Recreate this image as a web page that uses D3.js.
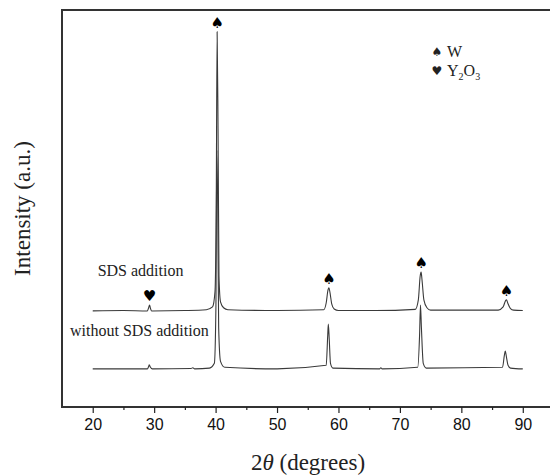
<!DOCTYPE html>
<html><head><meta charset="utf-8">
<script src="https://cdn.jsdelivr.net/npm/d3@7"></script>
<style>body{margin:0;background:#fff}svg{display:block}</style>
</head><body>
<svg id="c" width="550" height="475"></svg>
<script>
// 2θ (degrees), intensity (a.u.)
const withSDS = [[20,242],[25,243],[28.9,242],[29.1,250],[29.25,257],[29.4,248],[29.6,242],[35,243],[38.5,245],[39.5,252],[39.9,290],[40.1,500],[40.25,945],[40.4,700],[40.55,330],[40.8,265],[41.3,250],[42,245],[50,243],[57.6,245],[58.0,262],[58.3,295],[58.45,300],[58.6,290],[58.9,260],[59.3,247],[60,243],[66,243],[72.5,246],[73.0,270],[73.3,330],[73.45,340],[73.6,320],[73.9,270],[74.4,250],[75,244],[86,244],[86.8,252],[87.2,268],[87.35,270],[87.55,262],[88,248],[88.5,244],[90,243]];
const withoutSDS = [[20,96],[28.9,96],[29.1,102],[29.2,106],[29.4,100],[29.7,96],[36,97],[36.3,99],[36.6,96],[39,98],[39.8,110],[40.05,250],[40.2,647],[40.35,500],[40.5,200],[40.8,115],[41.5,100],[50,96],[58.0,105],[58.25,180],[58.35,209],[58.5,170],[58.7,110],[59.1,98],[66.7,96],[66.9,99],[67.1,96],[72.9,100],[73.2,180],[73.35,257],[73.5,200],[73.8,110],[74.3,98],[86.7,100],[87.0,130],[87.15,141],[87.35,125],[87.6,105],[88,98],[90,96]];
const markers = [
  {x:29.25, y:257, sym:"\u2665"},
  {x:40.25, y:945, sym:"\u2660"},
  {x:58.45, y:300, sym:"\u2660"},
  {x:73.45, y:340, sym:"\u2660"},
  {x:87.35, y:270, sym:"\u2660"}
];
const majorTicks = [20,30,40,50,60,70,80,90];
const minorTicks = [25,35,45,55,65,75,85];
const traceLabels = [{text:"SDS addition", x:20.8, y:330},{text:"without SDS addition", x:16.3, y:180}];

const svg = d3.select("#c");
const L = 62, T = 10, B = 407;
const x = d3.scaleLinear().domain([15,95]).range([L, 553.5]);
const y = d3.scaleLinear().domain([0,1000]).range([B, T]);

// frame
svg.append("rect").attr("x", L).attr("y", T).attr("width", x(95)-L).attr("height", B-T)
  .attr("fill","none").attr("stroke","#333").attr("stroke-width",2);

// axis ticks
const ax = svg.append("g").attr("transform",`translate(0,${B})`)
  .call(d3.axisBottom(x).tickValues(majorTicks).tickSize(6).tickSizeOuter(0).tickFormat(d3.format("d")));
ax.select(".domain").remove();
ax.selectAll(".tick line").attr("stroke","#222").attr("stroke-width",1.2);
ax.selectAll(".tick text").attr("font-family","Liberation Sans, Arial, sans-serif").attr("font-size",16).attr("fill","#111").attr("dy","0.9em");
const axm = svg.append("g").attr("transform",`translate(0,${B})`)
  .call(d3.axisBottom(x).tickValues(minorTicks).tickSize(3).tickSizeOuter(0).tickFormat(""));
axm.select(".domain").remove();
axm.selectAll(".tick line").attr("stroke","#222").attr("stroke-width",1.2);

// traces
const line = d3.line().x(d=>x(d[0])).y(d=>y(d[1])).curve(d3.curveMonotoneX);
[withoutSDS, withSDS].forEach(s=>{
  svg.append("path").datum(s).attr("d", line).attr("fill","none").attr("stroke","#3a3a3a").attr("stroke-width",1.1);
});

// peak markers
svg.selectAll(".mk").data(markers).join("text").attr("class","mk")
  .attr("x", d=>x(d.x)).attr("y", d=>y(d.y) - 4)
  .attr("text-anchor","middle").attr("font-family","DejaVu Sans, sans-serif").attr("font-size",15).attr("fill","#000")
  .text(d=>d.sym);

// trace labels
svg.selectAll(".tl").data(traceLabels).join("text").attr("class","tl")
  .attr("x", d=>x(d.x)).attr("y", d=>y(d.y))
  .attr("font-family","Liberation Serif, Times New Roman, serif").attr("font-size",16).attr("fill","#222")
  .text(d=>d.text);

// legend
const lg = svg.append("g").attr("font-family","Liberation Serif, Times New Roman, serif").attr("fill","#222");
lg.append("text").attr("x",437).attr("y",56).attr("text-anchor","middle").attr("font-family","DejaVu Sans, sans-serif").attr("font-size",12).text("\u2660");
lg.append("text").attr("x",447).attr("y",57).attr("font-size",16).text("W");
lg.append("text").attr("x",437).attr("y",75).attr("text-anchor","middle").attr("font-family","DejaVu Sans, sans-serif").attr("font-size",12).text("\u2665");
const t2 = lg.append("text").attr("x",447).attr("y",76).attr("font-size",16);
t2.append("tspan").text("Y");
t2.append("tspan").attr("font-size",10).attr("dy",4).text("2");
t2.append("tspan").attr("dy",-4).text("O");
t2.append("tspan").attr("font-size",10).attr("dy",4).text("3");

// axis titles
const xt = svg.append("text").attr("x", 308).attr("y", 470).attr("text-anchor","middle")
  .attr("font-family","Liberation Serif, Times New Roman, serif").attr("font-size",23).attr("fill","#222");
xt.append("tspan").text("2");
xt.append("tspan").attr("font-style","italic").text("\u03B8");
xt.append("tspan").text(" (degrees)");
svg.append("text").attr("transform",`translate(30,${(T+B)/2}) rotate(-90)`).attr("text-anchor","middle")
  .attr("font-family","Liberation Serif, Times New Roman, serif").attr("font-size",23).attr("fill","#222")
  .text("Intensity (a.u.)");
</script>
</body></html>
